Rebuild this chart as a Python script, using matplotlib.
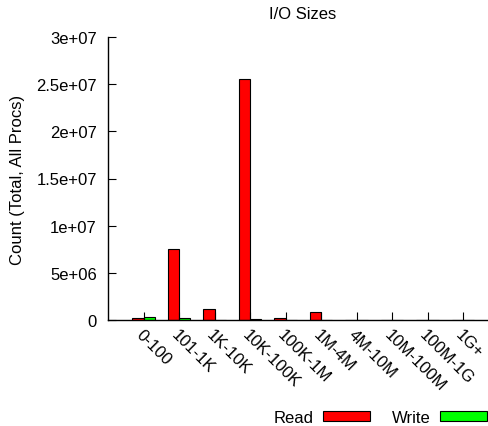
import numpy as np
import matplotlib
matplotlib.use("Agg")
import matplotlib.pyplot as plt

plt.rcParams['font.family'] = ['Liberation Sans', 'DejaVu Sans']

bins = ["0-100", "101-1K", "1K-10K", "10K-100K", "100K-1M",
        "1M-4M", "4M-10M", "10M-100M", "100M-1G", "1G+"]
read_counts = [2.0e5, 7.55e6, 1.2e6, 2.555e7, 1.6e5, 8.2e5, 3e4, 1e4, 1e4, 1e4]
write_counts = [3.2e5, 1.6e5, 2e4, 1.5e5, 1e4, 1e4, 1e4, 1e4, 1e4, 1e4]
yticks = [0, 5e6, 1e7, 1.5e7, 2e7, 2.5e7, 3e7]
ytick_labels = ["0", "5e+06", "1e+07", "1.5e+07", "2e+07", "2.5e+07", "3e+07"]

W, H = 488, 427
fig = plt.figure(figsize=(W/100, H/100), dpi=100)
# axis runs off the right edge of the image, like the original
ax = fig.add_axes([108/W, 1-321/H, 390.5/W, 283/H])

x = np.arange(len(bins))
bw = 0.32
rb = ax.bar(x - bw/2, read_counts, bw, color="#ff0000", edgecolor="black", linewidth=0.8, label="Read")
wb = ax.bar(x + bw/2, write_counts, bw, color="#00ff00", edgecolor="black", linewidth=0.8, label="Write")

ax.set_xlim(-1, 10)
ax.set_ylim(0, 3e7)
ax.set_yticks(yticks)
ax.set_yticklabels(ytick_labels)
ax.set_xticks(x)
ax.set_xticklabels(bins, rotation=-45, ha="left", va="top", rotation_mode="anchor")
ax.tick_params(axis="both", direction="in", length=6, width=0.8, labelsize=12)
ax.tick_params(axis="y", pad=8)
ax.tick_params(axis="x", pad=5)
for s in ["top", "right"]:
    ax.spines[s].set_visible(False)
for s in ["left", "bottom"]:
    ax.spines[s].set_linewidth(1.0)

fig.text(303/W, 1-14.5/H, "I/O Sizes", ha="center", va="center", fontsize=12)
fig.text(18/W, 1-179.5/H, "Count (Total, All Procs)", rotation=90, ha="center", va="center", fontsize=12)

fig.legend(handles=[rb, wb], loc="center right", bbox_to_anchor=(487/W, 1-418.5/H),
           ncol=2, frameon=False, markerfirst=False, fontsize=12,
           handlelength=2.8, handleheight=0.5, handletextpad=0.6,
           columnspacing=1.3, borderpad=0, borderaxespad=0)

fig.savefig("out.png", dpi=100)
